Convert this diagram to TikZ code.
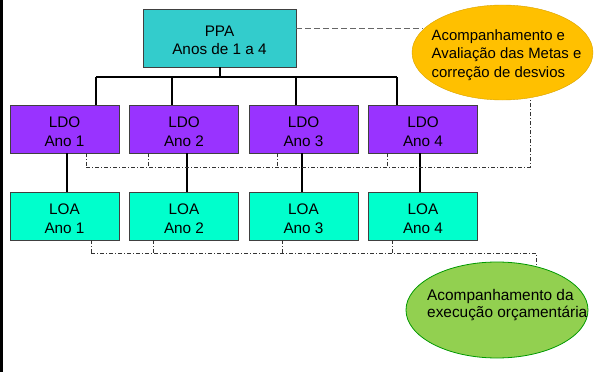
\documentclass[tikz,border=0pt]{standalone}
\usepackage{fontspec}
\setmainfont{Liberation Sans}
\definecolor{ppafill}{HTML}{33CCCC}
\definecolor{ldofill}{HTML}{9933FF}
\definecolor{loafill}{HTML}{00FFCC}
\definecolor{orangefill}{HTML}{FFC000}
\definecolor{greenfill}{HTML}{92D050}
\definecolor{boxline}{HTML}{404040}
\tikzset{
  box/.style={draw=boxline, line width=0.8pt, minimum width=109pt, minimum height=48pt,
    inner sep=0pt},
  boxtext/.style={font=\fontsize{15.3}{18.5}\selectfont, align=center, yshift=-2.5pt},
  link/.style={draw=black, line width=1.3pt},
  ddot/.style={draw=black!80, line width=0.7pt, dash pattern=on 4pt off 2pt on 1pt off 2pt},
  dsh/.style={draw=black!60, line width=0.9pt, dash pattern=on 6pt off 3pt},
  oval/.style={ellipse, inner sep=0pt}
}
\usetikzlibrary{shapes.geometric}
\begin{document}
\begin{tikzpicture}[x=1pt,y=-1pt]
\useasboundingbox (0,0) rectangle (606,372);
\draw[line width=2.5pt] (1.25,0) -- (1.25,372);

% ellipses
\node[oval, draw=orangefill!85!black, fill=orangefill, minimum width=181pt, minimum height=95pt] (ov1) at (502.5,52.5) {};
\node[font=\fontsize{14.9}{18.2}\selectfont, align=left, anchor=west, inner sep=0pt] (ov1t) at (431.5,55) {Acompanhamento e\\Avaliação das Metas e\\correção de desvios};
\node[oval, draw=green!60!black, line width=0.8pt, fill=greenfill, minimum width=182pt, minimum height=96pt] (ov2) at (497,310) {};
\node[font=\fontsize{15.4}{17.5}\selectfont, align=left, anchor=west, inner sep=0pt] (ov2t) at (427,305) {Acompanhamento da\\execução orçamentária};

% boxes
\node[box, fill=ppafill, minimum width=153pt, minimum height=58pt,
  label={[boxtext]center:PPA\\Anos de 1 a 4}] (ppa) at (219.5,38) {};
\foreach \i/\x in {1/64.5,2/184,3/303.5,4/423}{
  \node[box, fill=ldofill, label={[boxtext]center:LDO\\Ano \i}] (ldo\i) at (\x,129) {};
  \node[box, fill=loafill, label={[boxtext]center:LOA\\Ano \i}] (loa\i) at (\x,216) {};
}

% tree connectors
\coordinate (bus) at (220,77);
\draw[link] (ppa.south -| bus) -- (bus);
\draw[link] (96,77) -- (397,77);
\foreach \i/\x in {1/96,2/172,3/296,4/397}{
  \draw[link] (\x,77) -- (ldo\i.north -| \x,0);
}
\foreach \i/\x in {1/67,2/187,3/302,4/420}{
  \draw[link] (ldo\i.south -| \x,0) -- (loa\i.north -| \x,0);
}

% dashed link PPA - orange ellipse
\draw[dsh] (ppa.east |- 0,28) -- (423,28);

% dash-dot line LDO -> orange ellipse
\foreach \i/\x in {1/86,2/148,3/277,4/387}{
  \draw[ddot] (ldo\i.south -| \x,0) -- (\x,167);
}
\draw[ddot] (86,167) -- (530,167) -- (ov1.south -| 530,0);

% dash-dot line LOA -> green ellipse
\foreach \i/\x in {1/91,2/153,3/282,4/392}{
  \draw[ddot] (loa\i.south -| \x,0) -- (\x,253);
}
\draw[ddot] (91,253) -- (536,253) -- (536,265);
\end{tikzpicture}
\end{document}
